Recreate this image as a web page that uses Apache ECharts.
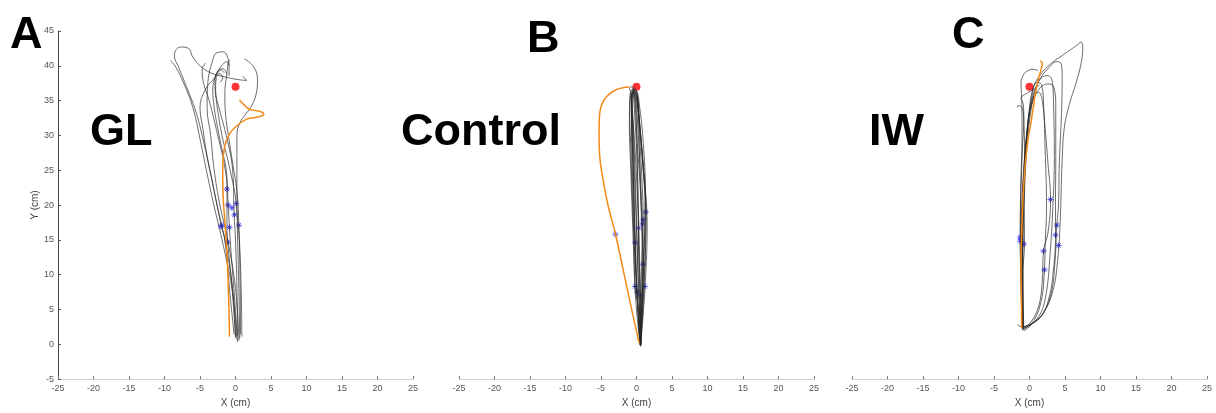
<!DOCTYPE html>
<html>
<head>
<meta charset="utf-8">
<script src="https://cdn.jsdelivr.net/npm/echarts@6/dist/echarts.min.js"></script>
<style>
  html, body { margin: 0; padding: 0; background: #fff; }
  #chart { width: 1216px; height: 413px; }
</style>
</head>
<body>
<div id="chart"></div>
<script>
// Hand-path trajectories (cm) for three conditions, plotted on identical axes.
const xRange = [-25, 25];
const yRange = [-5, 45];
const tickStep = 5;
const panelTitles = ['GL', 'Control', 'IW'];
const panelLetters = ['A', 'B', 'C'];
const target = [[0, 37]];

// --- GL ---
const glTrials = [
  [[0.2,0.6],[-0.5,8],[-1.9,15],[-3.05,20],[-4.1,25],[-4.9,29],[-6.0,34],[-7.3,37.5],[-8.4,39.8],[-9.2,40.8]],
  [[0.0,1.0],[-0.4,8],[-1.5,15],[-2.6,20],[-3.6,25],[-4.7,30],[-5.6,33.5],[-6.9,37],[-8.0,39.8],[-8.6,41.4],[-8.3,42.4],[-7.6,42.7],[-6.5,42.4],[-6.1,41.4],[-5.0,40],[-3.5,39],[-1.5,38.4],[0.5,38],[1.6,37.9],[1.0,38.5]],
  [[0.5,0.5],[0,8],[-1.1,15],[-2.2,20],[-3.0,25],[-3.5,30],[-4.0,34],[-3.9,37.5],[-3.3,40.5],[-2.6,41.9],[-1.7,42],[-1.1,41.2],[-0.9,39.8],[-0.9,38.5]],
  [[0.9,1.1],[0.8,8],[0.55,15],[0.2,20],[0.2,25],[0.2,30],[0.6,31.8],[1.4,33],[2.3,34.3],[2.9,35.9],[3.1,38],[2.6,39.8],[1.3,41]],
  [[0.3,0.3],[0.2,8],[0.0,15],[-0.2,18.6],[-0.4,25],[-1.3,30],[-2.2,33.5],[-2.8,36.5],[-2.7,38.3],[-2.2,38.9],[-1.8,38.2],[-2.2,37.6]],
  [[-0.2,1.4],[-0.85,8],[-1.5,15],[-2.0,17],[-2.6,20],[-3.2,23],[-4.0,27],[-4.6,31],[-5.0,34],[-4.3,36.5],[-3.0,38.2],[-2.0,39.4],[-1.6,39.0]],
  [[0.6,0.8],[0.47,8],[0.3,15],[0.1,20.2],[-0.75,25],[-1.9,30],[-2.7,35],[-2.9,37.8],[-2.5,39.2],[-1.8,39.6],[-1.2,38.8]],
  [[0.25,1.2],[-0.23,8],[-0.75,15],[-1.03,20],[-1.3,25],[-1.9,28],[-2.5,31],[-3.0,34],[-3.2,36.5],[-2.8,38.6],[-1.8,40.2],[-1.2,40.6],[-0.9,40.0]],
  [[0.7,1.4],[0.66,8],[0.47,17.1],[0.2,22],[-0.4,26],[-1.0,30],[-1.4,33],[-1.5,36],[-1.2,39],[-1.0,40.5],[-0.8,40.9]],
  [[0.0,1.0],[-0.47,8],[-1.1,14.7],[-1.2,17],[-1.2,22.3],[-1.6,26],[-2.5,30],[-3.7,35],[-4.5,37.5],[-4.7,39.5],[-4.2,40.4]]
];
const glLast = [[-0.85,1.1],[-0.95,6],[-1.15,12],[-1.45,17],[-1.75,21.5],[-1.8,25],[-1.55,28.3],[-0.85,30.2],[0.1,31.3],[1.5,32.3],[2.9,32.6],[4.0,33.0],[3.6,33.4],[2.6,33.6],[1.9,33.8],[1.2,34.4],[0.56,35.1]];
const glStars = [[-1.2,22.3],[-1.03,20],[-0.5,19.6],[0.1,20.2],[-0.14,18.6],[-1.9,17.1],[-2.05,16.9],[-0.85,16.8],[0.47,17.1],[-1.1,14.7]];

// --- Control ---
const ctrlTrials = [
  [[0.55,-0.3],[0.2,5],[-0.2,12],[-0.55,20],[-0.8,28],[-0.95,33],[-0.8,35.8],[-0.4,36.4],[0.0,35.2],[0.6,30],[1.2,23],[1.5,17],[1.3,10],[0.85,3],[0.55,-0.3]],
  [[0.6,0],[0.4,6],[0.1,14],[-0.2,22],[-0.5,30],[-0.6,34.5],[-0.3,36.2],[0.1,35.8],[0.4,32],[0.9,26],[1.35,19],[1.25,13],[0.9,6],[0.6,0]],
  [[0.5,0.2],[0.0,8],[-0.3,17],[-0.5,26],[-0.7,33],[-0.6,35.9],[-0.2,36.6],[0.2,34.8],[0.4,28],[0.7,18],[0.9,11.5],[0.7,4],[0.5,0.2]],
  [[0.6,-0.2],[0.45,4],[0.2,10],[0.0,18],[-0.25,26],[-0.5,32.5],[-0.65,35.7],[-0.25,36.3],[0.3,33],[0.8,27],[1.2,20],[1.1,14],[0.85,7],[0.6,-0.2]],
  [[0.45,0.3],[-0.15,7],[-0.5,16],[-0.8,25],[-1.0,31.5],[-0.95,35.5],[-0.55,36.7],[-0.2,35.3],[0.05,30],[0.2,22],[0.3,14],[0.45,6],[0.45,0.3]],
  [[0.6,0],[0.55,6],[0.45,12],[0.25,20],[0.0,28],[-0.3,33.8],[-0.45,36.3],[-0.05,36.4],[0.45,34],[0.95,29],[1.25,22],[1.1,15],[0.75,7],[0.6,0]],
  [[0.5,-0.1],[0.1,7.5],[-0.2,14.6],[-0.4,22],[-0.6,30],[-0.75,34.8],[-0.45,36.0],[-0.15,35.5],[0.2,31],[0.55,24],[0.8,17.3],[0.7,10],[0.55,3],[0.5,-0.1]],
  [[0.55,0.1],[0.3,5],[-0.2,8.3],[-0.35,15],[-0.55,23],[-0.7,31],[-0.7,35.3],[-0.3,36.8],[0.1,36],[0.5,31],[0.95,25],[1.3,19],[1.2,12],[0.9,5],[0.55,0.1]],
  [[0.6,-0.1],[0.56,7],[0.3,14],[0.28,16.7],[0.0,24],[-0.4,31],[-0.7,35],[-0.5,36.6],[-0.1,36],[0.3,32],[0.7,25],[0.94,17.9],[0.9,11],[0.7,4],[0.6,-0.1]],
  [[0.5,0],[0.09,7.5],[-0.1,13],[-0.3,20],[-0.5,28],[-0.65,34],[-0.85,36.3],[-1.0,36.8],[-0.6,37],[-0.3,35.5],[0.1,29],[0.6,21],[0.94,11.5],[0.8,5],[0.5,0]]
];
const ctrlLast = [[-1.03,36.96],[-2.8,36.6],[-4.2,35.6],[-4.9,34.4],[-5.2,33],[-5.27,30.2],[-5.17,26.9],[-4.7,23.6],[-4.0,19.9],[-2.96,15.8],[-1.65,9.6],[-0.47,4],[0.37,0.2]];
const ctrlStars = [[1.3,19],[0.94,17.9],[0.84,17.3],[0.28,16.7],[-0.19,14.6],[0.94,11.5],[-0.19,8.3],[1.17,8.3],[0.09,7.5],[0.56,7],[-2.96,15.8]];

// --- IW ---
const iwTrials = [
  [[-0.95,2.3],[-1.1,8],[-1.2,15],[-1.0,22],[-0.6,28],[-0.1,33],[0.5,36.8],[1.6,38.8],[3.0,40.3],[5.2,41.9],[6.6,42.9],[7.3,43.4],[7.5,42.8],[7.3,40.5],[6.6,37.7],[5.6,34.4],[4.9,31.1],[4.6,26.4],[4.3,17.1],[4.0,12.4],[3.3,7.7],[1.9,4.4],[0.3,2.9],[-0.95,2.3]],
  [[-0.9,2.2],[-1.05,9],[-1.0,16],[-0.75,24],[-0.3,30.5],[0.3,35],[1.3,37.8],[2.7,39.7],[3.9,40.6],[4.5,40.2],[4.6,38],[4.5,33],[4.2,26],[4.08,20],[3.85,17.1],[3.6,12],[3.1,7.5],[2.0,4.6],[0.4,3.0],[-0.9,2.2]],
  [[-0.9,2.5],[-1.1,9],[-1.1,16],[-0.9,23],[-0.45,29.5],[0.2,34.2],[1.3,36.6],[2.6,37.4],[3.4,37.0],[3.7,34],[3.7,27],[3.66,20],[3.66,15.7],[3.4,11],[2.7,6.5],[1.4,3.7],[-0.9,2.5]],
  [[-0.85,2.4],[-1.0,10],[-0.9,18],[-0.6,26],[-0.2,31.5],[0.5,35.2],[1.3,36.2],[1.8,35],[2.2,31],[2.6,26],[2.96,20.8],[2.6,16],[1.97,13.4],[1.8,9],[1.3,5.5],[0.2,3.2],[-0.85,2.4]],
  [[-0.9,2.1],[-1.0,9],[-0.95,17],[-0.7,25],[-0.3,31],[0.3,35.5],[1.0,37.6],[1.7,37.3],[2.0,34],[2.2,28],[2.4,20],[2.2,14],[2.1,10.7],[1.7,6.5],[0.6,3.4],[-0.9,2.1]],
  [[-1.0,2.0],[-1.25,10],[-1.3,15.4],[-1.25,22],[-1.05,30],[-1.1,35.5],[-1.2,37.5],[-0.9,38.6],[-0.4,39.2],[0.5,39.5],[1.2,39.3]],
  [[-1.05,2.6],[-1.2,10],[-1.3,14.8],[-1.2,22],[-1.0,28],[-0.8,32.5],[-0.9,34.6],[-1.2,35.3],[-0.3,36.1],[0.6,36.6],[1.4,37.2]],
  [[-0.8,2.3],[-0.95,10],[-0.7,14.4],[-0.75,22],[-0.7,28],[-0.8,32],[-1.0,33.9],[-1.6,34.3],[-1.7,34.0]],
  [[-1.7,2.8],[-1.0,2.4],[-0.9,6],[-0.9,14],[-0.7,22],[-0.3,29],[0.2,33.5],[0.8,36.5],[1.6,38.2],[2.6,38.6],[3.2,37.8],[3.4,34],[3.5,27],[3.3,20],[2.9,13],[2.3,7],[1.3,4],[-0.8,1.9]]
];
const iwLast = [[-1.1,2.3],[-1.15,7],[-1.2,12.4],[-1.1,16],[-1.0,18.9],[-0.8,23],[-0.55,26.4],[-0.2,29.5],[0.23,32],[0.6,34.5],[0.94,36.7],[1.3,38.3],[1.64,39.5],[1.8,40.4],[1.5,40.7]];
const iwStars = [[2.96,20.8],[3.85,17.1],[3.66,15.7],[4.1,14.2],[1.97,13.4],[2.1,10.7],[-1.3,15.4],[-1.3,14.8],[-1.25,15.1],[-0.8,14.4]];

const panels = [
  { trials: glTrials, last: glLast, stars: glStars },
  { trials: ctrlTrials, last: ctrlLast, stars: ctrlStars },
  { trials: iwTrials, last: iwLast, stars: iwStars }
];

const FONT = '"Liberation Sans", Arial, Helvetica, sans-serif';
const gridLefts = [58, 459, 852];
const asterisk = 'path://M5,0L5,10M0,5L10,5M1.5,1.5L8.5,8.5M1.5,8.5L8.5,1.5';

const chart = echarts.init(document.getElementById('chart'), null, { renderer: 'canvas' });

const grids = gridLefts.map(l => ({ left: l, top: 31, width: 355, height: 356 }));

const xAxes = gridLefts.map((_, i) => ({
  gridIndex: i,
  type: 'value',
  min: xRange[0], max: xRange[1], interval: tickStep,
  axisLine: { onZero: false, lineStyle: { color: '#cfcfcf', width: 1 } },
  axisTick: { inside: true, length: 3, lineStyle: { color: '#777' } },
  axisLabel: { color: '#555', fontSize: 9, margin: 5, fontFamily: FONT },
  splitLine: { show: false },
  name: 'X (cm)', nameLocation: 'middle', nameGap: 15,
  nameTextStyle: { color: '#444', fontSize: 10, fontFamily: FONT }
}));

const yAxes = gridLefts.map((_, i) => ({
  gridIndex: i,
  type: 'value',
  show: i === 0,
  min: yRange[0], max: yRange[1], interval: tickStep,
  axisLine: { show: true, onZero: false, lineStyle: { color: '#444', width: 1 } },
  axisTick: { inside: true, length: 3, lineStyle: { color: '#555' } },
  axisLabel: { color: '#555', fontSize: 9, margin: 4, fontFamily: FONT },
  splitLine: { show: false },
  name: 'Y (cm)', nameLocation: 'middle', nameGap: 14,
  nameTextStyle: { color: '#444', fontSize: 10, fontFamily: FONT }
}));

const series = [];
panels.forEach((p, i) => {
  p.trials.forEach(tr => {
    series.push({
      type: 'line', xAxisIndex: i, yAxisIndex: i, data: tr,
      smooth: 0.4, showSymbol: false, silent: true,
      lineStyle: { color: '#262626', width: 0.8, opacity: 0.85 }
    });
  });
  series.push({
    type: 'line', xAxisIndex: i, yAxisIndex: i, data: p.last,
    smooth: 0.4, showSymbol: false, silent: true,
    lineStyle: { color: '#f28a1a', width: 1.5 }
  });
  series.push({
    type: 'scatter', xAxisIndex: i, yAxisIndex: i, data: p.stars,
    symbol: asterisk, symbolSize: 6, silent: true,
    itemStyle: { color: 'none', borderColor: '#3030ff', borderWidth: 1 }
  });
  series.push({
    type: 'scatter', xAxisIndex: i, yAxisIndex: i, data: target,
    symbol: 'circle', symbolSize: 8, silent: true,
    itemStyle: { color: '#ff0000' }
  });
});

// Cap-centre positions for the panel letters and condition names
const letterPos = [[10, 36], [527, 40], [952, 36.5]];
const titlePos = [[90, 133], [401, 133], [869, 133.5]];
const graphic = [];
panelLetters.forEach((t, i) => {
  graphic.push({ type: 'text', left: letterPos[i][0], top: letterPos[i][1] - 23,
    style: { text: t, font: 'bold 45px ' + FONT, fill: '#000' } });
});
panelTitles.forEach((t, i) => {
  graphic.push({ type: 'text', left: titlePos[i][0], top: titlePos[i][1] - 23,
    style: { text: t, font: 'bold 45px ' + FONT, fill: '#000' } });
});

chart.setOption({
  animation: false,
  backgroundColor: '#fff',
  grid: grids,
  xAxis: xAxes,
  yAxis: yAxes,
  series: series,
  graphic: graphic
});
</script>
</body>
</html>
